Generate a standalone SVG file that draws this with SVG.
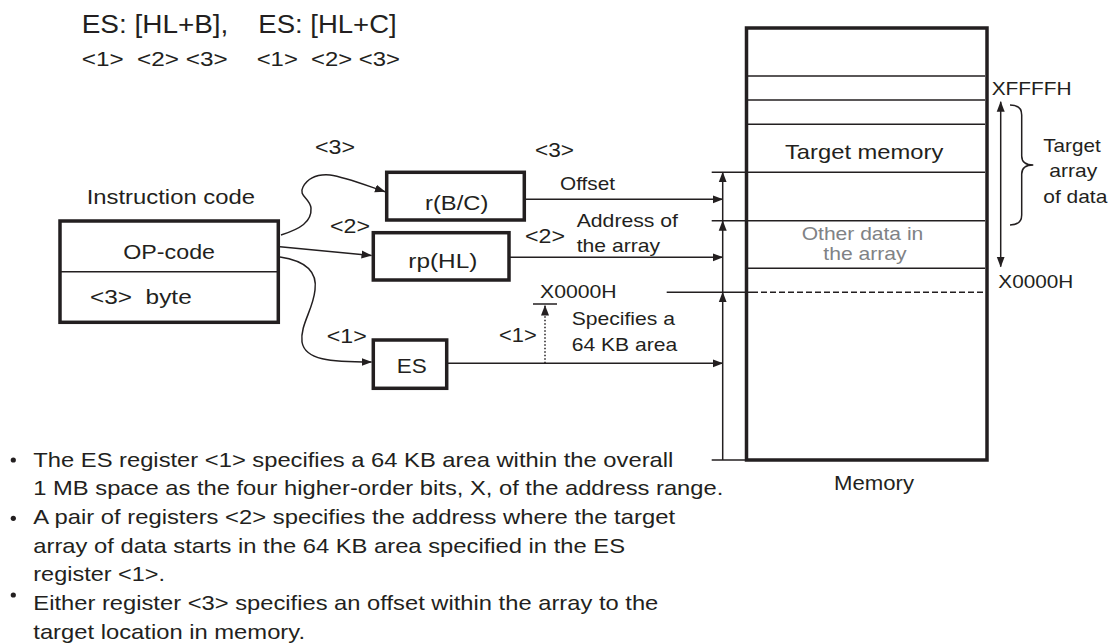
<svg xmlns="http://www.w3.org/2000/svg" width="1115" height="644" viewBox="0 0 1115 644">
<defs>
<marker id="ah" markerUnits="userSpaceOnUse" markerWidth="11" markerHeight="9" refX="10" refY="4.5" orient="auto-start-reverse" viewBox="0 0 11 9">
<path d="M0,0.5 L10.5,4.5 L0,8.5 z" fill="#231f20"/>
</marker>
<style>
text{font-family:"Liberation Sans",Arial,sans-serif;fill:#231f20}
.b{font-size:21px}
.m{font-size:19px}
.g{fill:#808285}
.box{fill:#fff;stroke:#231f20;stroke-width:3.5}
.thin{stroke:#231f20;stroke-width:1.5;fill:none}
.arr{stroke:#231f20;stroke-width:1.5;fill:none;marker-end:url(#ah)}
</style>
</defs>
<rect width="1115" height="644" fill="#fff"/>

<g id="header">
<text x="81.7" y="33.3" font-size="25" textLength="146.7" lengthAdjust="spacingAndGlyphs">ES: [HL+B],</text>
<text x="258.3" y="33.3" font-size="25" textLength="138.4" lengthAdjust="spacingAndGlyphs">ES: [HL+C]</text>
<text x="81.7" y="65.5" font-size="20" textLength="146" lengthAdjust="spacingAndGlyphs" xml:space="preserve">&lt;1&gt;  &lt;2&gt; &lt;3&gt;</text>
<text x="256.7" y="65.5" font-size="20" textLength="143.3" lengthAdjust="spacingAndGlyphs" xml:space="preserve">&lt;1&gt;  &lt;2&gt; &lt;3&gt;</text>
</g>

<g id="instruction-code">
<text class="b" x="86.7" y="204" textLength="168.3" lengthAdjust="spacingAndGlyphs">Instruction code</text>
<rect class="box" x="60" y="221" width="218.3" height="101.3"/>
<line class="thin" x1="60" y1="271.7" x2="278.3" y2="271.7"/>
<text class="b" x="123.3" y="259.3" textLength="91.7" lengthAdjust="spacingAndGlyphs">OP-code</text>
<text class="b" x="90" y="304" textLength="101.7" lengthAdjust="spacingAndGlyphs" xml:space="preserve">&lt;3&gt;  byte</text>
</g>

<g id="reg-bc">
<rect class="box" x="386.7" y="172.3" width="137.6" height="47.7"/>
<text class="b" x="425" y="210" textLength="63.3" lengthAdjust="spacingAndGlyphs">r(B/C)</text>
</g>
<g id="reg-hl">
<rect class="box" x="373.3" y="232.7" width="135.7" height="47.3"/>
<text class="b" x="408.3" y="268.3" textLength="69" lengthAdjust="spacingAndGlyphs">rp(HL)</text>
</g>
<g id="reg-es">
<rect class="box" x="373.3" y="340" width="73.4" height="48.3"/>
<text class="b" x="396.7" y="373.3" textLength="30" lengthAdjust="spacingAndGlyphs">ES</text>
</g>

<g id="memory">
<rect class="box" x="746.5" y="28" width="240.5" height="432"/>
<line class="thin" x1="748" y1="76" x2="985" y2="76"/>
<line class="thin" x1="748" y1="100" x2="985" y2="100"/>
<line class="thin" x1="748" y1="124.3" x2="985" y2="124.3"/>
<line class="thin" x1="711.7" y1="172.3" x2="985" y2="172.3"/>
<line class="thin" x1="711.7" y1="220.7" x2="985" y2="220.7"/>
<line class="thin" x1="748" y1="268.3" x2="985" y2="268.3"/>
<line class="thin" x1="666.7" y1="292.3" x2="752" y2="292.3"/>
<line class="thin" x1="752" y1="292.3" x2="985" y2="292.3" stroke-dasharray="6,3"/>
<line class="thin" x1="711.7" y1="460" x2="748" y2="460"/>
<text class="b" x="785" y="159.3" textLength="158.3" lengthAdjust="spacingAndGlyphs">Target memory</text>
<text class="m g" x="801.7" y="239.5" textLength="121.6" lengthAdjust="spacingAndGlyphs">Other data in</text>
<text class="m g" x="823.3" y="260" textLength="83.3" lengthAdjust="spacingAndGlyphs">the array</text>
<text class="m" x="991.7" y="95" textLength="80" lengthAdjust="spacingAndGlyphs">XFFFFH</text>
<text class="m" x="998.3" y="288.3" textLength="75" lengthAdjust="spacingAndGlyphs">X0000H</text>
<line class="thin" x1="1000.7" y1="101.7" x2="1000.7" y2="266.7" style="marker-start:url(#ah);marker-end:url(#ah)"/>
<path class="thin" d="M1010,105 C1018,105 1021.7,108 1021.7,115 L1021.7,156 C1021.7,162 1026,165 1033.3,165 C1026,165 1021.7,168 1021.7,174 L1021.7,215 C1021.7,222 1018,225 1010,225"/>
<text class="m" x="1043.3" y="151.7" textLength="57.4" lengthAdjust="spacingAndGlyphs">Target</text>
<text class="m" x="1049.3" y="177.3" textLength="48" lengthAdjust="spacingAndGlyphs">array</text>
<text class="m" x="1043.3" y="203.3" textLength="64" lengthAdjust="spacingAndGlyphs">of data</text>
<text font-size="20" x="834" y="490" textLength="80" lengthAdjust="spacingAndGlyphs">Memory</text>
</g>

<g id="connectors">
<path class="arr" d="M281,235 C300,229 312,222 311,208 C310,198 298,196 303,187 C308,178 318,174 330,175 C345,177 365,185 385,191.7"/>
<path class="arr" d="M280,246.7 L371.5,255.5"/>
<path class="arr" d="M280,257 C300,260 318,268 315,290 C313,310 300,325 302,342 C305,360 330,362 371.5,362"/>
<line class="arr" x1="524.3" y1="199.3" x2="722.7" y2="199.3"/>
<line class="arr" x1="509" y1="257.3" x2="722.7" y2="257.3"/>
<line class="arr" x1="446.7" y1="363.3" x2="722.7" y2="363.3"/>
<line class="arr" x1="722.7" y1="460" x2="722.7" y2="292.3"/>
<line class="arr" x1="722.7" y1="292.3" x2="722.7" y2="220.7"/>
<line class="arr" x1="722.7" y1="220.7" x2="722.7" y2="172.3"/>
<line class="arr" x1="545" y1="363.3" x2="545" y2="305.5" stroke-dasharray="1.5,2"/>
<line class="thin" x1="533" y1="304" x2="557" y2="304"/>
</g>

<g id="labels">
<text class="b" x="315" y="154" textLength="40" lengthAdjust="spacingAndGlyphs">&lt;3&gt;</text>
<text class="b" x="535" y="156.7" textLength="39" lengthAdjust="spacingAndGlyphs">&lt;3&gt;</text>
<text class="b" x="330" y="233.3" textLength="40" lengthAdjust="spacingAndGlyphs">&lt;2&gt;</text>
<text class="b" x="326.7" y="343.3" textLength="40" lengthAdjust="spacingAndGlyphs">&lt;1&gt;</text>
<text class="m" x="560" y="190" textLength="55" lengthAdjust="spacingAndGlyphs">Offset</text>
<text class="m" x="576.7" y="226.7" textLength="101.3" lengthAdjust="spacingAndGlyphs">Address of</text>
<text class="m" x="576.7" y="251.7" textLength="83.3" lengthAdjust="spacingAndGlyphs">the array</text>
<text class="b" x="525" y="243.3" textLength="40" lengthAdjust="spacingAndGlyphs">&lt;2&gt;</text>
<text class="m" x="540" y="298.3" textLength="76.7" lengthAdjust="spacingAndGlyphs">X0000H</text>
<text class="m" x="571.7" y="325" textLength="103.3" lengthAdjust="spacingAndGlyphs">Specifies a</text>
<text class="m" x="571.7" y="350.7" textLength="105.6" lengthAdjust="spacingAndGlyphs">64 KB area</text>
<text class="b" x="499" y="341.7" textLength="37.7" lengthAdjust="spacingAndGlyphs">&lt;1&gt;</text>
</g>

<g id="notes">
<circle cx="13.3" cy="460" r="2.6" fill="#231f20"/>
<circle cx="13.3" cy="518.3" r="2.6" fill="#231f20"/>
<circle cx="13.3" cy="595" r="2.6" fill="#231f20"/>
<text class="b" x="33.3" y="466.7" textLength="640" lengthAdjust="spacingAndGlyphs">The ES register &lt;1&gt; specifies a 64 KB area within the overall</text>
<text class="b" x="33.3" y="495" textLength="690" lengthAdjust="spacingAndGlyphs">1 MB space as the four higher-order bits, X, of the address range.</text>
<text class="b" x="33.3" y="524" textLength="641.7" lengthAdjust="spacingAndGlyphs">A pair of registers &lt;2&gt; specifies the address where the target</text>
<text class="b" x="33.3" y="552.7" textLength="591.7" lengthAdjust="spacingAndGlyphs">array of data starts in the 64 KB area specified in the ES</text>
<text class="b" x="33.3" y="581" textLength="131.7" lengthAdjust="spacingAndGlyphs">register &lt;1&gt;.</text>
<text class="b" x="33.3" y="610" textLength="625" lengthAdjust="spacingAndGlyphs">Either register &lt;3&gt; specifies an offset within the array to the</text>
<text class="b" x="33.3" y="638.5" textLength="271.7" lengthAdjust="spacingAndGlyphs">target location in memory.</text>
</g>
</svg>
